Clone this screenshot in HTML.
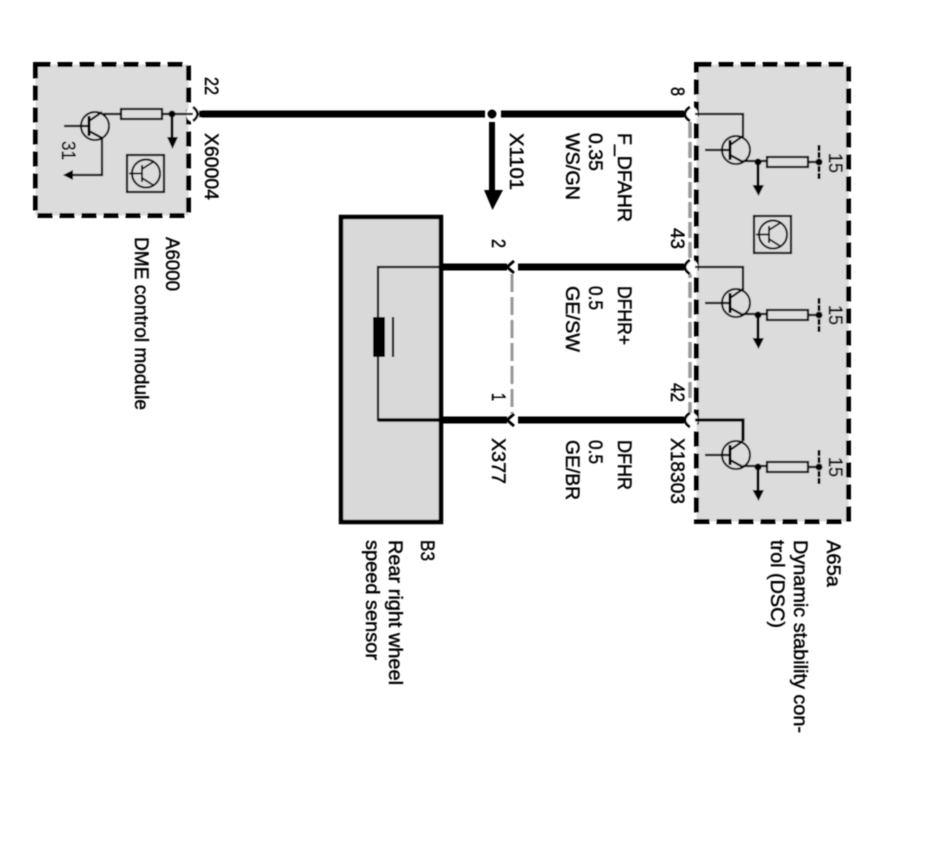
<!DOCTYPE html>
<html>
<head>
<meta charset="utf-8">
<style>
html,body{margin:0;padding:0;background:#fff;width:933px;height:864px;overflow:hidden}
svg{display:block}
text{font-family:"Liberation Sans",sans-serif;font-size:19px;fill:#000;stroke:#000;stroke-width:.45}
</style>
</head>
<body>
<svg width="933" height="864" viewBox="0 0 933 864" xmlns="http://www.w3.org/2000/svg">
<defs>
<filter id="soft" filterUnits="userSpaceOnUse" x="0" y="0" width="933" height="864"><feGaussianBlur stdDeviation="0.4"/></filter>
<g id="tr" fill="none" stroke="#000">
  <circle cx="0" cy="0" r="14" stroke-width="2"/>
  <path d="M-31 0H-6" stroke-width="2.200"/>
  <path d="M-6 -10V10" stroke-width="3"/>
  <path d="M-6 -5L7 -14M-6 5L7 12" stroke-width="2.200"/>
</g>
<g id="icon" fill="none" stroke="#000">
  <rect x="0" y="0" width="37" height="37" stroke-width="2.200"/>
  <circle cx="19" cy="18.500" r="14" stroke-width="2"/>
  <path d="M2 18.500H15M15 10V27M15 14L26 7M15 23L26 30" stroke-width="1.800"/>
</g>
</defs>

<g filter="url(#soft)">
<!-- boxes -->
<rect x="35.500" y="64.500" width="153" height="151" fill="#dcdcdc" stroke="#000" stroke-width="5" stroke-dasharray="15 7"/>
<rect x="696.500" y="64.500" width="152" height="457" fill="#dcdcdc" stroke="#000" stroke-width="5" stroke-dasharray="15 7"/>
<rect x="341" y="217" width="100" height="305" fill="#d9d9d9" stroke="#000" stroke-width="4.500"/>

<!-- grey shields -->
<path d="M690 122V418" stroke="#999" stroke-width="3.500" stroke-dasharray="16 4" fill="none"/>
<path d="M512 274V414" stroke="#999" stroke-width="3" stroke-dasharray="18 5" fill="none"/>

<!-- connector white gaps -->
<g fill="#fff">
  <circle cx="194" cy="114" r="8"/>
  <circle cx="691" cy="114" r="7"/>
  <circle cx="691" cy="267" r="7"/>
  <circle cx="691" cy="420" r="7"/>
</g>

<!-- main wires -->
<path d="M199 114H485M501 114H684" stroke="#000" stroke-width="7" fill="none"/>
<path d="M442 267H507M518 267H684M442 420H507M518 420H684" stroke="#000" stroke-width="7" fill="none"/>
<circle cx="492" cy="114" r="4.500" fill="#000"/>
<path d="M492 122V192" stroke="#000" stroke-width="6" fill="none"/>
<path d="M484 190H503L492.500 210Z" fill="#000"/>

<!-- connector forks -->
<g fill="none" stroke="#000" stroke-width="2.800">
  <path d="M193 107Q202 114 193 121"/>
  <path d="M690 107Q680 114 690 121"/>
  <path d="M690 260Q680 267 690 274"/>
  <path d="M690 413Q680 420 690 427"/>
  <path d="M514 261L507 267L514 273"/>
  <path d="M514 414L507 420L514 426"/>
</g>

<!-- left module internals -->
<g fill="none" stroke="#000">
  <g transform="translate(95,126)"><use href="#tr"/></g>
  <path d="M103 114H121M162 114H193" stroke-width="2.200"/>
  <rect x="121" y="109" width="41" height="10" fill="#dedede" stroke-width="2.200"/>
  <circle cx="172" cy="114" r="3" fill="#000"/>
  <path d="M172 114V138" stroke-width="2.800"/>
  <path d="M167 137H178L172.500 149Z" fill="#000" stroke="none"/>
  <path d="M102 138V175H70" stroke-width="2.200"/>
  <path d="M73 170V180L63 175Z" fill="#000" stroke="none"/>
</g>
<use href="#icon" x="127" y="155"/>

<!-- right module internals -->
<g fill="none" stroke="#000">
  <g transform="translate(736,150)"><use href="#tr"/></g>
  <g id="r1">
    <path d="M695 114H743V137" stroke-width="2.200"/>
    <path d="M743 161H767M808 162H819" stroke-width="2.200"/>
    <rect x="767" y="157" width="41" height="10" fill="#dedede" stroke-width="2.200"/>
    <path d="M819 145V180" stroke-width="3" stroke-dasharray="6 1"/>
    <circle cx="819" cy="162" r="3" fill="#000"/>
    <circle cx="758" cy="162" r="3" fill="#000"/>
    <path d="M758 162V186" stroke-width="2.800"/>
    <path d="M752.500 185H764L758.500 196Z" fill="#000" stroke="none"/>
  </g>
  <g transform="translate(736,303)"><use href="#tr"/></g>
  <use href="#r1" y="153"/>
  <g transform="translate(736,455)"><use href="#tr"/></g>
  <path d="M695 420H743V441" stroke-width="3.200"/>
  <path d="M743 466H767M808 467H819" stroke-width="2.200"/>
  <rect x="767" y="462" width="41" height="10" fill="#dedede" stroke-width="2.200"/>
  <path d="M819 450V485" stroke-width="3" stroke-dasharray="6 1"/>
  <circle cx="819" cy="467" r="3" fill="#000"/>
  <circle cx="758" cy="467" r="3" fill="#000"/>
  <path d="M758 467V491" stroke-width="2.800"/>
  <path d="M752.500 490H764L758.500 501Z" fill="#000" stroke="none"/>
</g>
<use href="#icon" x="754" y="216"/>

<!-- sensor internals -->
<path d="M442 267H378V420H442" fill="none" stroke="#000" stroke-width="2.200"/>
<path d="M378 420H442" fill="none" stroke="#000" stroke-width="3.500"/>
<rect x="373" y="317" width="12" height="40" rx="1" fill="#000"/>
<path d="M393 317V357" stroke="#000" stroke-width="2.200" fill="none"/>

<!-- labels -->
<text transform="translate(205,77) rotate(90)" textLength="18" lengthAdjust="spacingAndGlyphs">22</text>
<text transform="translate(205,133) rotate(90)" textLength="67" lengthAdjust="spacingAndGlyphs">X60004</text>
<text transform="translate(166,237) rotate(90)" textLength="54" lengthAdjust="spacingAndGlyphs">A6000</text>
<text transform="translate(135,237) rotate(90)" textLength="173" lengthAdjust="spacingAndGlyphs">DME control module</text>
<text transform="translate(62,141) rotate(90)" textLength="19" lengthAdjust="spacingAndGlyphs">31</text>

<text transform="translate(510,133) rotate(90)" textLength="57" lengthAdjust="spacingAndGlyphs">X1101</text>
<text transform="translate(618,133) rotate(90)" textLength="89" lengthAdjust="spacingAndGlyphs">F_DFAHR</text>
<text transform="translate(589,133) rotate(90)" textLength="38" lengthAdjust="spacingAndGlyphs">0.35</text>
<text transform="translate(566,133) rotate(90)" textLength="67" lengthAdjust="spacingAndGlyphs">WS/GN</text>

<text transform="translate(671,87) rotate(90)" textLength="9" lengthAdjust="spacingAndGlyphs">8</text>
<text transform="translate(671,228) rotate(90)" textLength="21" lengthAdjust="spacingAndGlyphs">43</text>
<text transform="translate(671,383) rotate(90)" textLength="19" lengthAdjust="spacingAndGlyphs">42</text>
<text transform="translate(671,438) rotate(90)" textLength="66" lengthAdjust="spacingAndGlyphs">X18303</text>

<text transform="translate(492,239) rotate(90)" textLength="9" lengthAdjust="spacingAndGlyphs">2</text>
<text transform="translate(492,393) rotate(90)" textLength="8" lengthAdjust="spacingAndGlyphs">1</text>
<text transform="translate(492,438) rotate(90)" textLength="46" lengthAdjust="spacingAndGlyphs">X377</text>

<text transform="translate(618,286) rotate(90)" textLength="59" lengthAdjust="spacingAndGlyphs">DFHR+</text>
<text transform="translate(589,286) rotate(90)" textLength="24" lengthAdjust="spacingAndGlyphs">0.5</text>
<text transform="translate(566,286) rotate(90)" textLength="66" lengthAdjust="spacingAndGlyphs">GE/SW</text>

<text transform="translate(618,440) rotate(90)" textLength="50" lengthAdjust="spacingAndGlyphs">DFHR</text>
<text transform="translate(589,440) rotate(90)" textLength="24" lengthAdjust="spacingAndGlyphs">0.5</text>
<text transform="translate(566,440) rotate(90)" textLength="60" lengthAdjust="spacingAndGlyphs">GE/BR</text>

<text transform="translate(829,153) rotate(90)" textLength="20" lengthAdjust="spacingAndGlyphs">15</text>
<text transform="translate(829,305) rotate(90)" textLength="20" lengthAdjust="spacingAndGlyphs">15</text>
<text transform="translate(829,457) rotate(90)" textLength="20" lengthAdjust="spacingAndGlyphs">15</text>

<text transform="translate(421,540) rotate(90)" textLength="21" lengthAdjust="spacingAndGlyphs">B3</text>
<text transform="translate(389,540) rotate(90)" textLength="145" lengthAdjust="spacingAndGlyphs">Rear right wheel</text>
<text transform="translate(366,540) rotate(90)" textLength="120" lengthAdjust="spacingAndGlyphs">speed sensor</text>

<text transform="translate(827,540) rotate(90)" textLength="47" lengthAdjust="spacingAndGlyphs">A65a</text>
<text transform="translate(794,540) rotate(90)" textLength="193" lengthAdjust="spacingAndGlyphs">Dynamic stability con-</text>
<text transform="translate(771,540) rotate(90)" textLength="88" lengthAdjust="spacingAndGlyphs">trol (DSC)</text>
</g>
</svg>
</body>
</html>
